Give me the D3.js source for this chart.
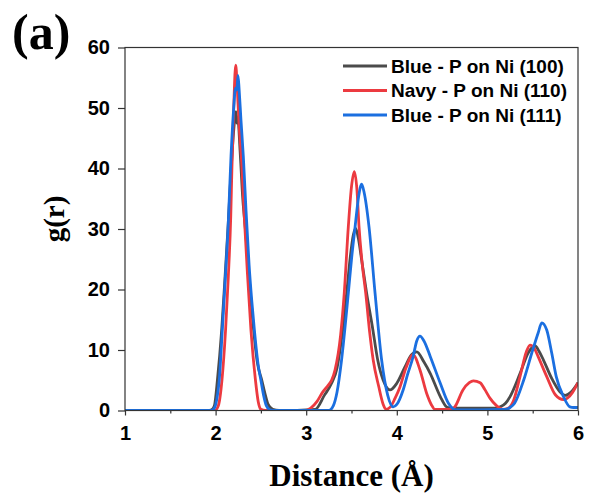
<!DOCTYPE html>
<html>
<head>
<meta charset="utf-8">
<script src="https://cdn.jsdelivr.net/npm/d3@7"></script>
<style>
  html, body { margin: 0; padding: 0; background: #fff; }
  svg { display: block; }
</style>
</head>
<body>
<svg id="chart" width="589" height="494"></svg>
<script>
// Radial distribution function g(r) of P around Ni surfaces

const seriesNames = ["Blue - P on Ni (100)", "Navy - P on Ni (110)", "Blue - P on Ni (111)"];
const seriesColors = ["#4b4b4b", "#ec3a40", "#1b6fe0"];

const xTicks = [1, 2, 3, 4, 5, 6];
const xMinorTicks = [1.5, 2.5, 3.5, 4.5, 5.5];
const yTicks = [0, 10, 20, 30, 40, 50, 60];

// Ni(100)
const r100 = [1.00, 1.93, 1.97, 1.99, 2.02, 2.067, 2.10, 2.14, 2.18, 2.21, 2.225, 2.235, 2.245, 2.27, 2.30, 2.33, 2.37, 2.42, 2.46, 2.51, 2.55, 2.58, 2.63, 2.70,
  3.10, 3.20, 3.28, 3.34, 3.40, 3.447, 3.483, 3.52, 3.546, 3.575, 3.612, 3.667, 3.73, 3.79, 3.85, 3.925, 4.00, 4.09, 4.16, 4.22, 4.30, 4.37, 4.48, 4.55, 4.60,
  5.10, 5.14, 5.20, 5.25, 5.36, 5.45, 5.525, 5.57, 5.62, 5.71, 5.80, 5.86, 5.92, 6.00];
const g100 = [0, 0, 0.3, 1, 5, 13.3, 21, 31, 42, 48, 49.4, 47.5, 48.5, 43, 35, 29.8, 22, 13.3, 8, 5, 2.5, 1, 0.2, 0,
  0.2, 2.5, 4.5, 7, 13, 19.4, 24.9, 29, 30.1, 28.5, 24.9, 19.4, 13.9, 8.3, 5.0, 3.4, 4.5, 7.2, 9.2, 9.7, 8.0, 6.1, 2.3, 0.6, 0.4,
  0.4, 0.6, 1.2, 2.3, 6.1, 9.5, 10.7, 9.8, 8.3, 5.3, 3.1, 2.5, 3.0, 4.6];

// Ni(110)
const r110 = [1.00, 1.99, 2.03, 2.07, 2.11, 2.14, 2.167, 2.18, 2.20, 2.222, 2.24, 2.26, 2.288, 2.317, 2.35, 2.39, 2.44, 2.47, 2.50, 2.55,
  3.00, 3.05, 3.12, 3.18, 3.244, 3.28, 3.318, 3.38, 3.42, 3.465, 3.50, 3.531, 3.56, 3.583, 3.62, 3.657, 3.70, 3.74, 3.80, 3.85, 3.88,
  3.93, 3.98, 4.035, 4.10, 4.18, 4.256, 4.33, 4.38, 4.42, 4.60, 4.64, 4.73, 4.80, 4.845, 4.92, 4.97, 5.03, 5.10, 5.17,
  5.22, 5.29, 5.36, 5.43, 5.47, 5.52, 5.56, 5.655, 5.75, 5.84, 5.88, 5.94, 6.00];
const g110 = [0, 0, 0.8, 5, 13.3, 22, 32, 40, 50, 57.1, 53, 47, 41, 32, 23, 13.3, 5, 1.5, 0.2, 0,
  0, 0.4, 1.5, 3.0, 4.2, 5.0, 6.7, 12.5, 19.4, 30.4, 37, 39.5, 36.5, 30.4, 24, 19.4, 13, 8.3, 4.0, 1.0, 0.2,
  0.6, 2.0, 3.9, 7, 9.2, 6.7, 2.8, 1.0, 0.2, 0.2, 0.6, 3.4, 4.6, 4.9, 4.6, 3.5, 2.0, 0.8, 0.2,
  0.3, 1.7, 5.6, 9.7, 10.8, 10.2, 8.9, 5.6, 2.6, 1.8, 2.0, 3.0, 4.6];

// Ni(111)
const r111 = [1.00, 1.95, 1.99, 2.02, 2.04, 2.074, 2.10, 2.14, 2.17, 2.20, 2.22, 2.235, 2.247, 2.26, 2.28, 2.306, 2.336, 2.37, 2.40, 2.43, 2.47, 2.50, 2.53, 2.56, 2.60, 2.65,
  3.25, 3.30, 3.34, 3.39, 3.465, 3.50, 3.54, 3.58, 3.612, 3.64, 3.693, 3.76, 3.833, 3.90, 3.96, 4.00, 4.07, 4.12, 4.18, 4.22, 4.256, 4.30, 4.37, 4.48, 4.57, 4.65,
  5.20, 5.25, 5.30, 5.40, 5.49, 5.56, 5.60, 5.655, 5.71, 5.76, 5.84, 5.91, 5.95, 6.00];
const g111 = [0, 0, 0.5, 2.5, 5, 13.3, 20, 31, 42, 50, 53.3, 53, 55.4, 53, 48, 42, 33, 24, 18, 13, 7.5, 5, 2.5, 0.8, 0.1, 0,
  0, 0.8, 3, 8.3, 19.4, 25, 30.4, 35.5, 37.4, 36, 30.4, 19.4, 8.3, 2.5, 0.6, 1.0, 3.4, 6, 8.9, 11.5, 12.3, 11.5, 8.9, 4.5, 1.2, 0.1,
  0.2, 0.5, 1.2, 5.0, 9.5, 12.8, 14.5, 13.3, 9.5, 5.6, 2.3, 0.6, 0.5, 0.5];

const seriesR = [r100, r110, r111];
const seriesG = [g100, g110, g111];

const svg = d3.select("#chart");
const plotLeft = 125, plotRight = 578, plotTop = 47.5, plotBottom = 410.5;

const x = d3.scaleLinear().domain([1, 6]).range([plotLeft, plotRight]);
const y = d3.scaleLinear().domain([0, 60]).range([plotBottom, plotTop]);

const sansBold = "'Liberation Sans', Arial, sans-serif";
const serifBold = "'Liberation Serif', 'Times New Roman', serif";

svg.append("defs").append("clipPath").attr("id", "plotClip")
  .append("rect").attr("x", plotLeft).attr("y", plotTop - 2)
  .attr("width", plotRight - plotLeft).attr("height", plotBottom - plotTop + 2);

// axes
const xAxis = svg.append("g").attr("transform", `translate(0,${plotBottom})`)
  .call(d3.axisBottom(x).tickValues(xTicks).tickFormat(d3.format("d")).tickSize(5).tickPadding(10));
const xMinor = svg.append("g").attr("transform", `translate(0,${plotBottom})`)
  .call(d3.axisBottom(x).tickValues(xMinorTicks).tickFormat("").tickSize(3));
const yAxis = svg.append("g").attr("transform", `translate(${plotLeft},0)`)
  .call(d3.axisLeft(y).tickValues(yTicks).tickFormat(d3.format("d")).tickSize(7).tickPadding(8));

[xAxis, xMinor, yAxis].forEach(g => {
  g.select(".domain").remove();
  g.selectAll(".tick line").attr("stroke", "#333").attr("stroke-width", 1.2);
  g.selectAll(".tick text").attr("fill", "#000")
    .style("font-family", sansBold).style("font-weight", "bold").style("font-size", "20px");
});

// lines
const line = d3.line().curve(d3.curveMonotoneX);
const plot = svg.append("g").attr("clip-path", "url(#plotClip)");
seriesR.forEach((rs, i) => {
  const pts = rs.map((r, j) => [x(r), y(seriesG[i][j])]);
  plot.append("path").attr("d", line(pts))
    .attr("fill", "none").attr("stroke", seriesColors[i])
    .attr("stroke-width", 2.8).attr("stroke-linejoin", "round");
});

// frame
svg.append("rect").attr("x", plotLeft).attr("y", plotTop)
  .attr("width", plotRight - plotLeft).attr("height", plotBottom - plotTop)
  .attr("fill", "none").attr("stroke", "#333").attr("stroke-width", 1.2);

// legend
const legend = svg.append("g");
seriesNames.forEach((name, i) => {
  const ly = 66 + i * 24.5;
  legend.append("line").attr("x1", 343).attr("x2", 387).attr("y1", ly).attr("y2", ly)
    .attr("stroke", seriesColors[i]).attr("stroke-width", 2.8);
  legend.append("text").attr("x", 391).attr("y", ly + 6.5).text(name)
    .style("font-family", sansBold).style("font-weight", "bold").style("font-size", "19px").attr("fill", "#000");
});

// titles
svg.append("text").attr("x", (plotLeft + plotRight) / 2).attr("y", 486).attr("text-anchor", "middle")
  .text("Distance (Å)")
  .style("font-family", serifBold).style("font-weight", "bold").style("font-size", "31px");

svg.append("text").attr("transform", "translate(64,219) rotate(-90)").attr("text-anchor", "middle")
  .text("g(r)")
  .style("font-family", serifBold).style("font-weight", "bold").style("font-size", "29px");

svg.append("text").attr("x", 12).attr("y", 49).text("(a)")
  .style("font-family", serifBold).style("font-weight", "bold").style("font-size", "50px");
</script>
</body>
</html>
